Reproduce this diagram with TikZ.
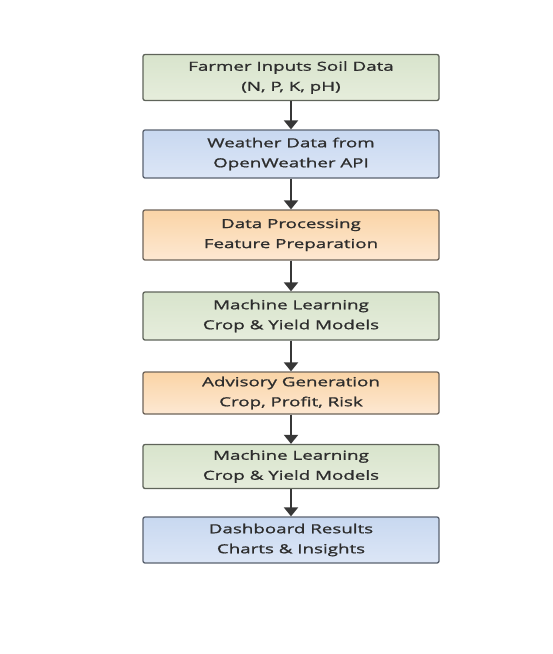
\documentclass[tikz,border=0pt]{standalone}
\usepackage{fontspec}
\setmainfont{Open Sans}[FakeStretch=1.5,FakeBold=1.2]
\usepackage{xcolor}
\usetikzlibrary{positioning,arrows.meta}

\definecolor{greentop}{RGB}{216,228,204}
\definecolor{greenbot}{RGB}{230,237,220}
\definecolor{greenline}{RGB}{95,100,90}
\definecolor{bluetop}{RGB}{200,216,240}
\definecolor{bluebot}{RGB}{220,230,246}
\definecolor{blueline}{RGB}{90,98,112}
\definecolor{orangetop}{RGB}{250,212,166}
\definecolor{orangebot}{RGB}{253,232,210}
\definecolor{orangeline}{RGB}{110,100,90}
\definecolor{textgray}{RGB}{45,45,45}
\definecolor{arrowgray}{RGB}{55,55,55}

\begin{document}
\begin{tikzpicture}[x=1pt, y=-1pt, >={Triangle[width=14pt,length=9pt]},
    box/.style={draw, line width=1.3pt, rounded corners=2pt, minimum width=296pt,
        minimum height=46pt, align=center, text=textgray,
        font=\fontsize{12.5}{20}\selectfont},
    greenbox/.style={box, draw=greenline, top color=greentop, bottom color=greenbot},
    bluebox/.style={box, draw=blueline, top color=bluetop, bottom color=bluebot},
    orangebox/.style={box, draw=orangeline, top color=orangetop, bottom color=orangebot},
    flow/.style={->, draw=arrowgray, fill=arrowgray, line width=2pt}]
    \useasboundingbox (0,0) rectangle (553,654);

    \node [greenbox] (soil) at (291,77.5) {Farmer Inputs Soil Data\\(N, P, K, pH)};
    \node [bluebox, minimum height=48pt] (weather) at (291,154) {Weather Data from\\OpenWeather API};
    \node [orangebox, minimum height=50pt] (proc) at (291,235) {Data Processing\\Feature Preparation};
    \node [greenbox, minimum height=48pt] (ml) at (291,316) {Machine Learning\\Crop \& Yield Models};
    \node [orangebox, minimum height=42pt] (advice) at (291,393) {Advisory Generation\\Crop, Profit, Risk};
    \node [greenbox, minimum height=44pt] (ml2) at (291,466.5) {Machine Learning\\Crop \& Yield Models};
    \node [bluebox] (dash) at (291,540) {Dashboard Results\\Charts \& Insights};

    \draw [flow] (soil) -- (weather);
    \draw [flow] (weather) -- (proc);
    \draw [flow] (proc) -- (ml);
    \draw [flow] (ml) -- (advice);
    \draw [flow] (advice) -- (ml2);
    \draw [flow] (ml2) -- (dash);
\end{tikzpicture}
\end{document}
